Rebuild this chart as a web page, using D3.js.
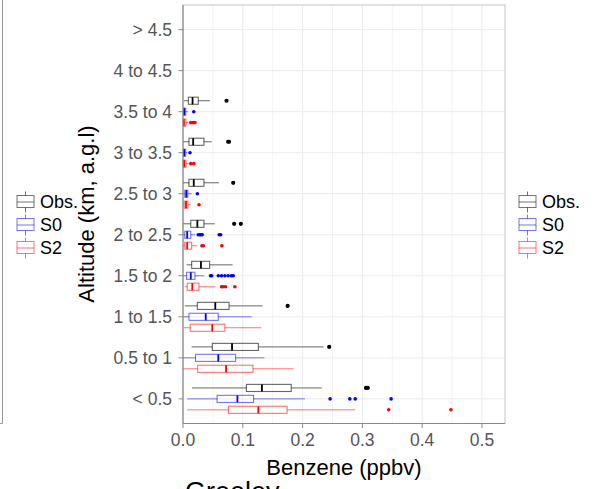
<!DOCTYPE html>
<html><head><meta charset="utf-8">
<script src="https://cdn.jsdelivr.net/npm/d3@7"></script>
<style>body{margin:0;background:#fff}svg{display:block;font-family:"Liberation Sans",Arial,sans-serif}</style>
</head><body><svg id="c" width="595" height="489"></svg>
<script>
const categories = ["< 0.5","0.5 to 1","1 to 1.5","1.5 to 2","2 to 2.5","2.5 to 3","3 to 3.5","3.5 to 4","4 to 4.5","> 4.5"];
const seriesNames = ["Obs.","S0","S2"];
const seriesColors = ["#000000","#0000ff","#ff0000"];
const xTicks = [0.0,0.1,0.2,0.3,0.4,0.5];
// [lower whisker, Q1, median, Q3, upper whisker] per category
const obsStats = [
  [0.015,0.106,0.132,0.181,0.232],
  [0.0145,0.049,0.082,0.126,0.235],
  [0.003,0.024,0.054,0.077,0.133],
  [0.006,0.0145,0.030,0.0445,0.083],
  [0.0,0.013,0.024,0.035,0.053],
  [0.0,0.010,0.018,0.035,0.060],
  [0.0,0.010,0.017,0.035,0.048],
  [0.0015,0.009,0.016,0.0255,0.045],
  null, null];
const obsOutliers = [[0.306,0.309],[0.2445],[0.175],[],[0.0855,0.0967],[0.084],[0.0755,0.077],[0.0728],[],[]];
const s0Stats = [
  [0.007,0.057,0.091,0.118,0.204],
  [0.0,0.021,0.059,0.088,0.136],
  [0.0,0.010,0.038,0.059,0.115],
  [0.0,0.006,0.013,0.020,0.0355],
  [0.0,0.003,0.007,0.013,0.020],
  [0.0,0.003,0.0055,0.008,0.0145],
  [0.0,0.001,0.002,0.0045,0.007],
  [0.0,0.001,0.002,0.0045,0.008],
  null, null];
const s0Outliers = [[0.246,0.279,0.288,0.348],[],[],[0.046,0.048,0.059,0.0645,0.070,0.0755,0.081,0.084],[0.0255,0.028,0.030,0.032,0.0605,0.063],[0.024],[0.0117],[0.018],[],[]];
const s2Stats = [
  [0.007,0.076,0.126,0.174,0.288],
  [0.0,0.0245,0.072,0.117,0.185],
  [0.002,0.012,0.049,0.070,0.131],
  [0.003,0.007,0.0155,0.0267,0.0545],
  [0.0,0.003,0.007,0.0145,0.024],
  [0.0,0.002,0.005,0.008,0.013],
  [0.0,0.0005,0.002,0.005,0.010],
  [0.0,0.0005,0.0015,0.005,0.009],
  null, null];
const s2Outliers = [[0.344,0.448],[],[],[0.0645,0.067,0.071,0.0867],[0.0317,0.034,0.065],[0.0267],[0.013,0.018],[0.013,0.017,0.020],[],[]];

const allStats = [obsStats, s0Stats, s2Stats];
const allOutliers = [obsOutliers, s0Outliers, s2Outliers];

const svg = d3.select("#c");
const L = 183, R = 505, T = 5, B = 423.5;
const x = d3.scaleLinear().domain([0, 0.5385]).range([L, R]);
const y = d3.scalePoint().domain(categories.slice().reverse()).range([T, B]).padding(0.6);
const step = y.step();
const slot = step * 0.8 / 3;
const boxH = slot * 0.65;
const off = [-slot, 0, slot];

// left neighbour panel edge
svg.append("path").attr("d", `M2.5,0V423.5H0`).attr("fill","none").attr("stroke","#9a9a9a").attr("stroke-width",1);

// grid
const g = svg.append("g");
const minor = d3.range(0.05, 0.54, 0.1);
g.selectAll(".mn").data(minor).join("line").attr("x1",d=>x(d)).attr("x2",d=>x(d)).attr("y1",T).attr("y2",B).attr("stroke","#f3f3f3").attr("stroke-width",1);
g.selectAll(".mj").data(xTicks.slice(1)).join("line").attr("x1",d=>x(d)).attr("x2",d=>x(d)).attr("y1",T).attr("y2",B).attr("stroke","#ebebeb").attr("stroke-width",1);
g.selectAll(".hy").data(categories).join("line").attr("x1",L).attr("x2",R).attr("y1",d=>y(d)).attr("y2",d=>y(d)).attr("stroke","#ebebeb").attr("stroke-width",1);

// panel border
svg.append("rect").attr("x",L).attr("y",T).attr("width",R-L).attr("height",B-T).attr("fill","none").attr("stroke","#c4c4c4").attr("stroke-width",1);

// boxes
seriesNames.forEach((name, si) => {
  const col = seriesColors[si];
  const sg = svg.append("g");
  const o = si === 0 ? 0.6 : 0.55;
  categories.forEach((cat, ci) => {
    const s = allStats[si][ci];
    if (!s) return;
    const cy = y(cat) + off[si];
    sg.append("line").attr("x1",x(s[0])).attr("x2",x(s[1])).attr("y1",cy).attr("y2",cy).attr("stroke",col).attr("stroke-opacity",o);
    sg.append("line").attr("x1",x(s[3])).attr("x2",x(s[4])).attr("y1",cy).attr("y2",cy).attr("stroke",col).attr("stroke-opacity",o);
    sg.append("rect").attr("x",x(s[1])).attr("y",cy-boxH/2).attr("width",Math.max(0.5,x(s[3])-x(s[1]))).attr("height",boxH)
      .attr("fill","none").attr("stroke",col).attr("stroke-opacity",o).attr("stroke-width",1.1);
    sg.append("line").attr("x1",x(s[2])).attr("x2",x(s[2])).attr("y1",cy-boxH/2).attr("y2",cy+boxH/2).attr("stroke",col).attr("stroke-width",1.8);
    sg.selectAll(null).data(allOutliers[si][ci]).join("circle").attr("cx",d=>x(d)).attr("cy",cy).attr("r", si===0?2.1:1.8).attr("fill",col);
  });
});

// axes lines
svg.append("line").attr("x1",L).attr("x2",L).attr("y1",T).attr("y2",B).attr("stroke","#8a8a8a").attr("stroke-width",1.2);
svg.append("line").attr("x1",L).attr("x2",R).attr("y1",B).attr("y2",B).attr("stroke","#8a8a8a").attr("stroke-width",1.2);

// y ticks
const yt = svg.append("g");
yt.selectAll("line").data(categories).join("line").attr("x1",L-4.5).attr("x2",L).attr("y1",d=>y(d)).attr("y2",d=>y(d)).attr("stroke","#8a8a8a");
yt.selectAll("text").data(categories).join("text").attr("x",L-11).attr("y",d=>y(d)).attr("dy","0.36em")
  .attr("text-anchor","end").attr("font-size",17.5).attr("fill","#555").text(d=>d);
// x ticks
const xt = svg.append("g");
xt.selectAll("line").data(xTicks).join("line").attr("x1",d=>x(d)).attr("x2",d=>x(d)).attr("y1",B).attr("y2",B+4.5).attr("stroke","#8a8a8a");
xt.selectAll("text").data(xTicks).join("text").attr("x",d=>x(d)).attr("y",446).attr("text-anchor","middle")
  .attr("font-size",17.5).attr("fill","#555").text(d=>d3.format(".1f")(d));

// titles
svg.append("text").attr("x",344).attr("y",475).attr("text-anchor","middle").attr("font-size",22).attr("fill","#000").text("Benzene (ppbv)");
svg.append("text").attr("transform","translate(94,214) rotate(-90)").attr("text-anchor","middle").attr("font-size",22).attr("fill","#000").text("Altitude (km, a.g.l)");
svg.append("text").attr("x",185).attr("y",501).attr("font-size",27).attr("fill","#000").text("Greeley");

// legends
function legend(x0, yc0) {
  const lg = svg.append("g");
  seriesNames.forEach((name, i) => {
    const cy = yc0 + i*23;
    const col = seriesColors[i];
    const kx = x0, kw = 17, cx = kx + kw/2;
    lg.append("line").attr("x1",cx).attr("x2",cx).attr("y1",cy-10.5).attr("y2",cy-6.5).attr("stroke",col).attr("stroke-opacity",0.55);
    lg.append("line").attr("x1",cx).attr("x2",cx).attr("y1",cy+5.5).attr("y2",cy+10.5).attr("stroke",col).attr("stroke-opacity",0.55);
    lg.append("rect").attr("x",kx).attr("y",cy-6.5).attr("width",kw).attr("height",12).attr("fill","none").attr("stroke",col).attr("stroke-opacity",0.55);
    lg.append("line").attr("x1",kx).attr("x2",kx+kw).attr("y1",cy).attr("y2",cy).attr("stroke",col).attr("stroke-opacity",0.55);
    lg.append("text").attr("x",kx+kw+6).attr("y",cy).attr("dy","0.36em").attr("font-size",18).attr("fill","#000").text(name);
  });
}
legend(17, 202);
legend(519, 202);
</script></body></html>
